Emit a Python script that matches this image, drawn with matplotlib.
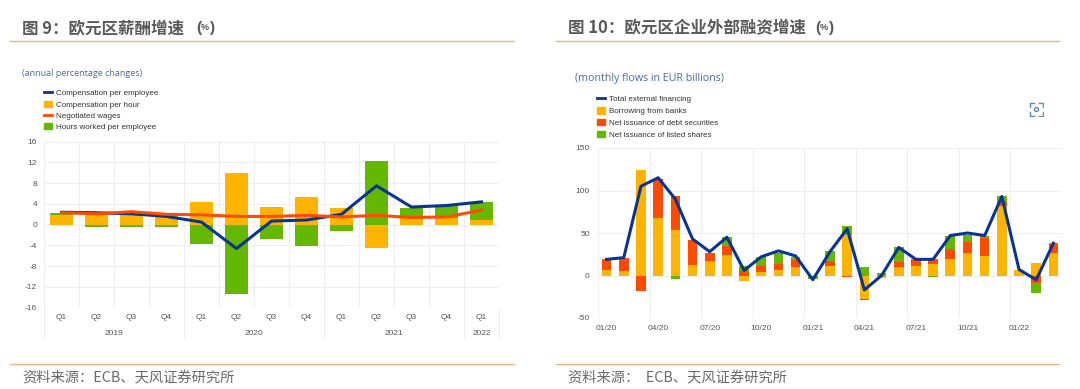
"""
Euro area compensation growth and corporate external financing, side by side.
"""

import numpy as np
import matplotlib
matplotlib.use("Agg")
import matplotlib.pyplot as plt
from matplotlib.lines import Line2D
from matplotlib.patches import Circle, Patch

plt.rcParams["font.family"] = ["Liberation Sans", "Noto Sans CJK SC"]
plt.rcParams["axes.unicode_minus"] = False

# ── Data ────────────────────────────────────────────────────────────────────

quarters = ["Q1", "Q2", "Q3", "Q4", "Q1", "Q2", "Q3", "Q4", "Q1", "Q2", "Q3", "Q4", "Q1"]
years = ["2019", "2020", "2021", "2022"]
quarters_per_year = [4, 4, 4, 1]
comp_hour = [1.8, 2.4, 2.5, 1.9, 4.4, 10.0, 3.5, 5.3, 3.3, -4.4, 1.2, 1.2, 1.0]
hours_worked = [0.5, -0.4, -0.4, -0.5, -3.8, -13.3, -2.8, -4.2, -1.3, 12.3, 2.1, 2.5, 3.3]
comp_employee = [2.4, 2.3, 2.1, 1.6, 0.5, -4.6, 0.7, 0.9, 2.0, 7.5, 3.4, 3.7, 4.4]
negotiated = [2.3, 2.1, 2.5, 2.0, 1.9, 1.6, 1.6, 1.8, 1.5, 1.8, 1.4, 1.5, 2.8]
wage_ticks = [16, 12, 8, 4, 0, -4, -8, -12, -16]

months = ["01/20", "04/20", "07/20", "10/20", "01/21", "04/21", "07/21", "10/21", "01/22"]
banks = [7, 5, 124, 68, 53, 12, 17, 24, -7, 4, 7, 10, -1, 11, 48, -28, -3, 10, 11, 14, 20, 26, 23, 82, 7, 15, 27]
debt = [11, 16, -18, 45, 40, 30, 10, 11, 5, 7, 7, 8, 0, 6, -2, -1, 0, 6, 7, 5, 11, 13, 21, 5, 0, -9, 10]
shares = [1, 0, 0, 1, -4, 0, 0, 10, 6, 11, 13, 4, -3, 12, 10, 10, 3, 18, 1, -2, 16, 9, 3, 7, 0, -11, 1]
total = [19, 21, 105, 115, 90, 43, 28, 45, 6, 22, 29, 23, -5, 28, 55, -17, 0, 33, 19, 19, 47, 50, 47, 93, 7, -5, 38]
flow_ticks = [150, 100, 50, 0, -50]

# ── Style ───────────────────────────────────────────────────────────────────

NAVY = "#0B3490"
ORANGE = "#FFB400"
RED = "#FF4B00"
GREEN = "#65B800"
GRID = "#EFEFF2"
RULE = "#F4B183"
HEAD = "#595959"
TICK = "#555555"
W, H = 1080, 389
CJK = ["Noto Sans CJK SC", "DejaVu Sans"]


def px_axes(fig, left, top, right, bottom):
    return fig.add_axes([left / W, 1 - bottom / H, (right - left) / W, (bottom - top) / H])


def stacked(ax, x, series, colors, width):
    # positive and negative parts stack away from zero separately
    up = np.zeros(len(x))
    down = np.zeros(len(x))
    for values, color in zip(series, colors):
        values = np.array(values, dtype=float)
        base = np.where(values >= 0, up, down)
        ax.bar(x, values, width, bottom=base, color=color, zorder=2)
        up += np.clip(values, 0, None)
        down += np.clip(values, None, 0)


def clean(ax):
    for side in ax.spines:
        ax.spines[side].set_visible(False)
    ax.tick_params(length=0, labelsize=6, colors=TICK)
    ax.grid(color=GRID, linewidth=0.8, zorder=0)
    ax.set_axisbelow(True)


def header(fig, x0, x1, tx, title, paren_x, source):
    for y in (41, 364):
        fig.add_artist(Line2D([x0 / W, x1 / W], [1 - y / H, 1 - y / H], color=RULE, linewidth=1))
    fig.text(tx / W, 1 - 28 / H, title, fontsize=11.9, fontweight="bold", color=HEAD,
             va="center", family=CJK)
    # the percent sign in the heading is much smaller than the characters around it
    for dx, part, size in [(0, "(", 11), (5, "%", 6.5), (14, ")", 11)]:
        fig.text((paren_x + dx) / W, 1 - 28 / H, part, fontsize=size, fontweight="bold",
                 color=HEAD, va="center")
    fig.text(tx / W, 1 - 378 / H, source, fontsize=10.3, color="#6A6A6A", va="center", family=CJK)


def legend(ax, handles, labels, anchor, spacing):
    ax.legend(handles, labels, loc="upper left", bbox_to_anchor=anchor,
              bbox_transform=ax.figure.transFigure, frameon=False, fontsize=5.8,
              labelcolor="#333333", handlelength=1.0, handleheight=0.8, handletextpad=0.55,
              labelspacing=spacing, borderpad=0, borderaxespad=0)


fig = plt.figure(figsize=(W / 100, H / 100), dpi=100, facecolor="white")

# ── Figure 9 ────────────────────────────────────────────────────────────────

header(fig, 10, 514, 22, "图 9：欧元区薪酬增速", 196, "资料来源：ECB、天风证券研究所")
fig.text(22 / W, 1 - 73 / H, "(annual percentage changes)", fontsize=6.45, color="#4A6AA5",
         va="center", family="Open Sans")

ax1 = px_axes(fig, 44, 141.7, 499, 307.7)
clean(ax1)
x1 = np.arange(len(quarters))
stacked(ax1, x1, [comp_hour, hours_worked], [ORANGE, GREEN], 0.66)
ax1.plot(x1, comp_employee, color=NAVY, linewidth=2.2, zorder=3)
ax1.plot(x1, negotiated, color=RED, linewidth=2.2, zorder=4)
ax1.set_xlim(-0.5, len(quarters) - 0.5)
ax1.set_ylim(-16, 16)
ax1.set_yticks(wage_ticks)
ax1.set_xticks(x1 - 0.5, minor=True)
ax1.set_xticks(x1, quarters)
ax1.tick_params(axis="x", which="major", pad=4.5)
ax1.tick_params(axis="x", which="minor", length=0)
ax1.tick_params(axis="y", pad=5)
ax1.grid(False, axis="x", which="major")
ax1.grid(True, axis="x", which="minor", color=GRID, linewidth=0.8, zorder=0)
ax1.axvline(len(quarters) - 0.5, color=GRID, linewidth=0.8, zorder=0)

# year groups under the quarter labels
trans = ax1.get_xaxis_transform()
start = 0
ax1.plot([-0.5, -0.5], [0, -0.18], transform=trans, color=GRID, linewidth=0.8, clip_on=False)
for year, n in zip(years, quarters_per_year):
    ax1.text(start + (n - 1) / 2, -0.156, year, transform=trans, ha="center", va="center",
             fontsize=6, color=TICK)
    ax1.plot([start + n - 0.5] * 2, [0, -0.18], transform=trans, color=GRID, linewidth=0.8,
             clip_on=False)
    start += n

legend(ax1, [Line2D([], [], color=NAVY, linewidth=2), Patch(color=ORANGE),
             Line2D([], [], color=RED, linewidth=2), Patch(color=GREEN)],
       ["Compensation per employee", "Compensation per hour", "Negotiated wages",
        "Hours worked per employee"], (44 / W, 1 - 89.5 / H), 0.42)

# ── Figure 10 ───────────────────────────────────────────────────────────────

header(fig, 556, 1059, 568, "图 10：欧元区企业外部融资增速", 815, "资料来源：  ECB、天风证券研究所")
fig.text(575 / W, 1 - 78 / H, "(monthly flows in EUR billions)", fontsize=7.65, color="#4A6AA5",
         va="center", family="Open Sans")

ax2 = px_axes(fig, 598, 148, 1062, 318)
clean(ax2)
x2 = np.arange(len(total))
stacked(ax2, x2, [banks, debt, shares], [ORANGE, RED, GREEN], 0.56)
ax2.plot(x2, total, color=NAVY, linewidth=2.2, zorder=3)
ax2.set_xlim(-0.5, len(total) - 0.5)
ax2.set_ylim(-50, 150)
ax2.set_yticks(flow_ticks)
ax2.set_xticks(x2[::3], months)
ax2.set_xticks(x2[::3] - 0.5, minor=True)
ax2.tick_params(axis="x", which="minor", length=0)
ax2.tick_params(axis="x", which="major", pad=5)
ax2.tick_params(axis="y", pad=6)
ax2.grid(False, axis="x", which="major")
ax2.grid(True, axis="x", which="minor", color=GRID, linewidth=0.8, zorder=0)
ax2.axvline(len(total) - 0.5, color=GRID, linewidth=0.8, zorder=0)

legend(ax2, [Line2D([], [], color=NAVY, linewidth=2), Patch(color=ORANGE), Patch(color=RED),
             Patch(color=GREEN)],
       ["Total external financing", "Borrowing from banks", "Net issuance of debt securities",
        "Net issuance of listed shares"], (597 / W, 1 - 95.5 / H), 0.5)

# small camera icon at the top right of the chart
icon = px_axes(fig, 1029, 102, 1044, 117)
icon.set_xlim(0, 15)
icon.set_ylim(15, 0)
icon.axis("off")
for sx, sy in [(1, 1), (14, 1), (1, 14), (14, 14)]:
    dx = 4 if sx == 1 else -4
    dy = 4 if sy == 1 else -4
    icon.plot([sx + dx, sx, sx], [sy, sy, sy + dy], color="#5B8DB0", linewidth=1)
icon.add_patch(Circle((7.5, 7.5), 2, fill=False, edgecolor="#5B8DB0", linewidth=1))

fig.savefig("out.png", dpi=100)
